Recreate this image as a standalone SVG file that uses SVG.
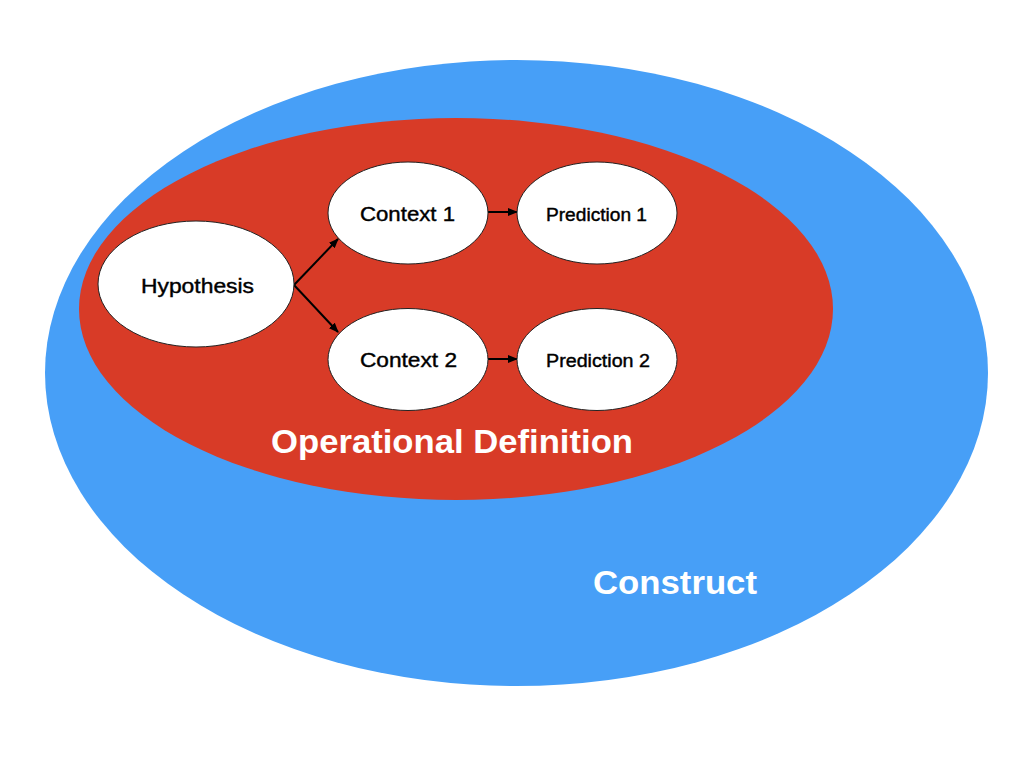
<svg xmlns="http://www.w3.org/2000/svg" width="1024" height="768" viewBox="0 0 1024 768">
<style>
.node{fill:#fff;stroke:#222;stroke-width:1}
.lbl{font-family:"Liberation Sans",Arial,sans-serif;fill:#000;stroke:#000;stroke-width:0.4;text-anchor:middle}
.big{font-family:"Liberation Sans",Arial,sans-serif;font-weight:bold;fill:#fff;font-size:34px}
.edge{stroke:#000;stroke-width:2;fill:none;marker-end:url(#ah)}
</style>
<defs>
<marker id="ah" markerWidth="10" markerHeight="8" refX="9" refY="4" orient="auto" markerUnits="userSpaceOnUse">
<path d="M0,0 L10,4 L0,8 Z" fill="#000"/>
</marker>
</defs>
<rect width="1024" height="768" fill="#fff"/>
<g id="construct">
<ellipse cx="516.5" cy="373" rx="471.5" ry="313" fill="#479FF7"/>
<text class="big" x="593" y="594" textLength="164" lengthAdjust="spacingAndGlyphs">Construct</text>
</g>
<g id="operational-definition">
<ellipse cx="456" cy="309" rx="377" ry="191" fill="#D83B27"/>
<text class="big" x="271" y="453" textLength="362" lengthAdjust="spacingAndGlyphs">Operational Definition</text>
</g>
<g id="connectors">
<line class="edge" x1="294" y1="285" x2="338" y2="239"/>
<line class="edge" x1="294" y1="285" x2="338" y2="332"/>
<line class="edge" x1="488" y1="212" x2="517" y2="212"/>
<line class="edge" x1="488" y1="359" x2="517" y2="359"/>
</g>
<g id="hypothesis">
<ellipse class="node" cx="196" cy="284" rx="98" ry="63"/>
<text class="lbl" x="197.5" y="293" font-size="20" textLength="113" lengthAdjust="spacingAndGlyphs">Hypothesis</text>
</g>
<g id="context1">
<ellipse class="node" cx="408" cy="213" rx="80" ry="51"/>
<text class="lbl" x="407.5" y="221" font-size="20" textLength="95" lengthAdjust="spacingAndGlyphs">Context 1</text>
</g>
<g id="context2">
<ellipse class="node" cx="408" cy="359.5" rx="80" ry="51"/>
<text class="lbl" x="408.5" y="367" font-size="20" textLength="97" lengthAdjust="spacingAndGlyphs">Context 2</text>
</g>
<g id="prediction1">
<ellipse class="node" cx="597" cy="213" rx="80" ry="51"/>
<text class="lbl" x="596.5" y="221" font-size="18" textLength="101" lengthAdjust="spacingAndGlyphs">Prediction 1</text>
</g>
<g id="prediction2">
<ellipse class="node" cx="597" cy="359.5" rx="80" ry="51"/>
<text class="lbl" x="598" y="367" font-size="18" textLength="104" lengthAdjust="spacingAndGlyphs">Prediction 2</text>
</g>
</svg>
